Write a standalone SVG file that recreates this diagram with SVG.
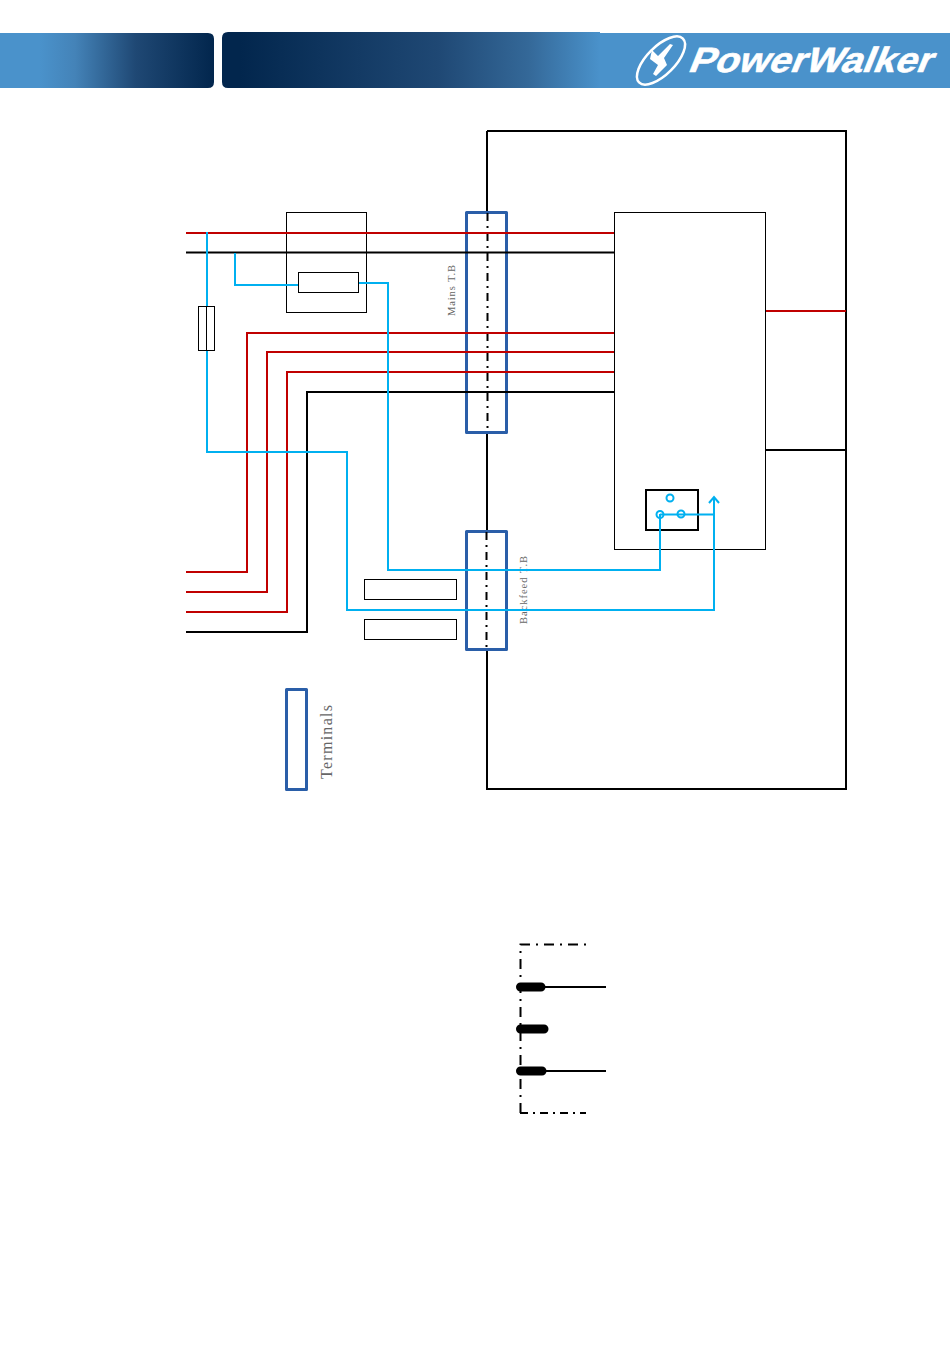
<svg xmlns="http://www.w3.org/2000/svg" width="950" height="1348" viewBox="0 0 950 1348">
<style>
.ln{fill:none;stroke-linejoin:miter}
.red{stroke:#c00000;stroke-width:2}
.blk{stroke:#000;stroke-width:2}
.blu{stroke:#00b0f0;stroke-width:2}
.box{fill:none;stroke:#000;stroke-width:1}
.term{fill:none;stroke:#2a5ea8;stroke-width:3;stroke-linejoin:round}
.dd{fill:none;stroke:#000;stroke-width:2;stroke-dasharray:8 5 2 5}
.lbl{font-family:"Liberation Serif",serif;fill:#666}
.logo{font-family:"Liberation Sans",Arial,sans-serif;font-weight:700;fill:#fff;stroke:#fff;stroke-width:.6}
</style>
<defs>
<linearGradient id="g1" gradientUnits="userSpaceOnUse" x1="40" y1="0" x2="214" y2="0"><stop offset="0" stop-color="#4a92cb"/><stop offset="0.2" stop-color="#4483b8"/><stop offset="0.55" stop-color="#1f4874"/><stop offset="1" stop-color="#02264d"/></linearGradient>
<linearGradient id="g2" gradientUnits="userSpaceOnUse" x1="240" y1="0" x2="600" y2="0"><stop offset="0" stop-color="#02264d"/><stop offset="0.55" stop-color="#1f4874"/><stop offset="0.8" stop-color="#346898"/><stop offset="1" stop-color="#4a92cb"/></linearGradient>
</defs>
<g id="header">
<path d="M0 33H208Q214 33 214 39V82Q214 88 208 88H0Z" fill="url(#g1)"/>
<path d="M228 32H600V33H950V88H228Q222 88 222 82V38Q222 32 228 32Z" fill="url(#g2)"/>
<rect x="600" y="33" width="350" height="55" fill="#4a92cb"/>
</g>
<g id="logo">
<ellipse cx="661" cy="60.500" rx="14" ry="31" transform="rotate(45 661 60.500)" fill="none" stroke="#fff" stroke-width="2.500"/>
<path d="M652 50L658 56L670 44L673 45L664 58L667 65L656 76L653 74L658 65L650 59Z" fill="#fff"/>
<text class="logo" transform="translate(687 72) skewX(-22)" font-size="35" textLength="243" lengthAdjust="spacingAndGlyphs">PowerWalker</text>
</g>
<g id="cabinet"><path d="M487 131H846V789H487V650M487 432V531M487 131V212" fill="none" stroke="#000" stroke-width="2"/></g>
<g id="mains-terminal">
<rect class="term" x="466.500" y="212.500" width="40" height="220"/>
<path class="dd" d="M487.500 213V432"/>
<text class="lbl" transform="translate(455 316) rotate(-90)" font-size="10.500" textLength="51" lengthAdjust="spacing">Mains T.B</text>
</g>
<g id="backfeed-terminal">
<rect class="term" x="466.500" y="531.500" width="40" height="118"/>
<path class="dd" d="M486.500 532V649"/>
<text class="lbl" transform="translate(527 624) rotate(-90)" font-size="10.500" textLength="68" lengthAdjust="spacing">Backfeed T.B</text>
</g>
<g id="breaker"><rect class="box" x="286.500" y="212.500" width="80" height="100"/></g>
<g id="ups"><rect class="box" x="614.500" y="212.500" width="151" height="337"/></g>
<g id="switch">
<rect x="646" y="490" width="52" height="40" fill="none" stroke="#000" stroke-width="2"/>
</g>
<g id="box-a"><rect class="box" x="364.500" y="579.500" width="92" height="20"/></g>
<g id="box-b"><rect class="box" x="364.500" y="619.500" width="92" height="20"/></g>
<g id="connectors">
<path class="ln red" d="M186 233H614"/>
<path class="ln blk" d="M186 252.500H614"/>
<path class="ln red" d="M186 572H247V333H614"/>
<path class="ln red" d="M186 592H267V352H614"/>
<path class="ln red" d="M186 612H287V372H614"/>
<path class="ln blk" d="M186 632H307V392H614"/>
<path class="ln red" d="M766 311H846"/>
<path class="ln blk" d="M766 450H846"/>
<path class="ln blu" d="M207 232V452H347V610H714V497"/>
<path class="ln blu" d="M709 503L714 497L719 503"/>
<path class="ln blu" d="M235 253V285H299"/>
<path class="ln blu" d="M358 283H388V570H660V514"/>
<path class="ln blu" d="M660 514.500H714"/>
</g>
<g id="contacts">
<circle cx="670" cy="498" r="3.500" fill="none" stroke="#00b0f0" stroke-width="2"/>
<circle cx="660" cy="514.500" r="3.500" fill="none" stroke="#00b0f0" stroke-width="2"/>
<circle cx="681" cy="514" r="3.500" fill="none" stroke="#00b0f0" stroke-width="2"/>
</g>
<g id="relay"><rect class="box" x="298.500" y="272.500" width="60" height="20" style="fill:#fff"/></g>
<g id="fuse"><rect class="box" x="198.500" y="306.500" width="16" height="44" style="fill:#fff"/><path class="box" d="M206.500 306V351"/></g>
<g id="legend">
<rect class="term" x="286.500" y="689.500" width="20" height="100"/>
<text class="lbl" transform="translate(332 779) rotate(-90)" font-size="16" textLength="74" lengthAdjust="spacing">Terminals</text>
</g>
<g id="contact">
<path d="M520.500 1113V944.500H586" fill="none" stroke="#000" stroke-width="2" stroke-dasharray="10 6 2 6"/>
<path d="M520 1113H586" fill="none" stroke="#000" stroke-width="2" stroke-dasharray="8 5 2 5"/>
<path d="M520 987H606M520 1071H606" fill="none" stroke="#000" stroke-width="2"/>
<path d="M520.500 987H541M520.500 1029H544M520.500 1071H542" fill="none" stroke="#000" stroke-width="9" stroke-linecap="round"/>
</g>
</svg>
